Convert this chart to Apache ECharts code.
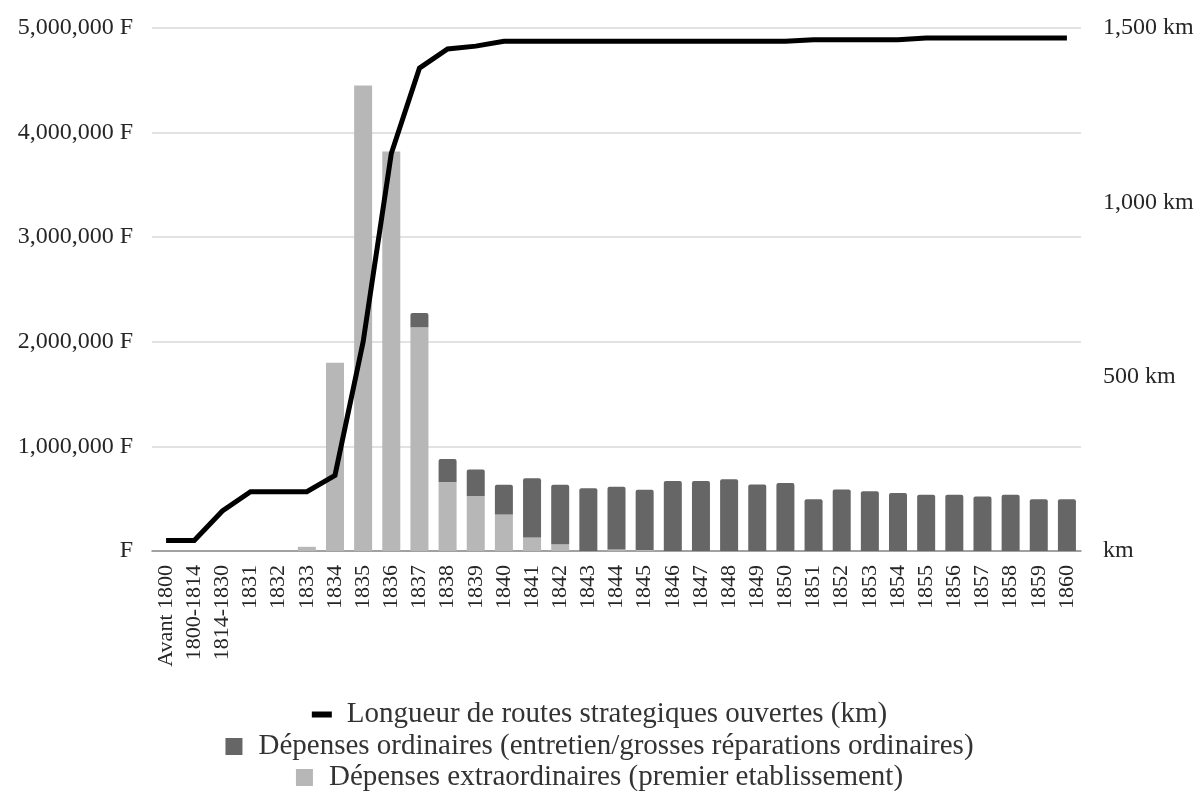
<!DOCTYPE html>
<html>
<head>
<meta charset="utf-8">
<script src="https://cdn.jsdelivr.net/npm/echarts@6/dist/echarts.min.js"></script>
<style>
html, body { margin: 0; padding: 0; background: #fff; }
#chart { width: 1199px; height: 791px; }
</style>
</head>
<body>
<div id="chart"></div>
<script>
// categories (x axis)
var categories = ['Avant 1800', '1800-1814', '1814-1830',
  '1831', '1832', '1833', '1834', '1835', '1836', '1837', '1838', '1839', '1840',
  '1841', '1842', '1843', '1844', '1845', '1846', '1847', '1848', '1849', '1850',
  '1851', '1852', '1853', '1854', '1855', '1856', '1857', '1858', '1859', '1860'];

// Dépenses extraordinaires (F)
var extraordinaires = [0, 0, 0,
  0, 0, 40000, 1800000, 4450000, 3820000, 2140000, 660000, 525000, 350000,
  130000, 65000, 0, 15000, 10000, 0, 0, 0, 0, 0,
  0, 0, 0, 0, 0, 0, 0, 0, 0, 0];

// Dépenses ordinaires (F)
var ordinaires = [0, 0, 0,
  0, 0, 0, 0, 0, 0, 135000, 220000, 253000, 284000,
  566000, 569000, 600000, 600000, 575000, 670000, 670000, 685000, 635000, 650000,
  495000, 588000, 572000, 555000, 538000, 538000, 522000, 538000, 495000, 495000];

// Longueur de routes ouvertes (km)
var longueurKm = [30, 30, 115,
  170, 170, 170, 217, 600, 1140, 1385, 1440, 1448, 1462,
  1462, 1462, 1462, 1462, 1462, 1462, 1462, 1462, 1462, 1462,
  1466, 1466, 1466, 1466, 1471, 1471, 1471, 1471, 1471, 1471];

var leftTicks = { min: 0, max: 5000000, interval: 1000000 };
var rightTicks = { min: 0, max: 1500, interval: 500 };

var FONT = "'Liberation Serif', 'DejaVu Serif', serif";
var TXT = '#262626';

function fmt(v){
	return v.toString().replace(/\B(?=(\d{3})+(?!\d))/g, ',');
}

var chart = echarts.init(document.getElementById('chart'));
var option = {
	backgroundColor: '#ffffff',
	animation: false,
	textStyle: { fontFamily: FONT },
	grid: { left: 152, right: 118, top: 28, bottom: 240, containLabel: false },
	legend: [
		{
			top: 695, left: 'center',
			itemWidth: 20, itemHeight: 6,
			textStyle: { fontFamily: FONT, fontSize: 29, color: '#333', padding: [0, 0, 0, 10] },
			data: [{ name: 'Longueur de routes strategiques ouvertes (km)', icon: 'rect' }]
		},
		{
			top: 727, left: 'center',
			itemWidth: 17, itemHeight: 17,
			textStyle: { fontFamily: FONT, fontSize: 29, color: '#333', padding: [0, 0, 0, 11] },
			data: [{ name: 'Dépenses ordinaires (entretien/grosses réparations ordinaires)', icon: 'rect' }]
		},
		{
			top: 758, left: 'center',
			itemWidth: 17, itemHeight: 17,
			textStyle: { fontFamily: FONT, fontSize: 29, color: '#333', padding: [0, 0, 0, 11] },
			data: [{ name: 'Dépenses extraordinaires (premier etablissement)', icon: 'rect' }]
		}
	],
	xAxis: {
		type: 'category',
		data: categories,
		boundaryGap: true,
		axisLine: { lineStyle: { color: '#8c8c8c', width: 1.5 } },
		axisTick: { show: false },
		axisLabel: {
			rotate: 90, interval: 0, margin: 14,
			fontFamily: FONT, fontSize: 22, color: TXT
		}
	},
	yAxis: [
		{
			type: 'value',
			min: leftTicks.min, max: leftTicks.max, interval: leftTicks.interval,
			axisLine: { show: false },
			axisTick: { show: false },
			splitLine: { lineStyle: { color: '#d9d9d9', width: 1.5 } },
			axisLabel: {
				margin: 19, fontFamily: FONT, fontSize: 24, color: TXT,
				formatter: function(v){ return v === 0 ? 'F' : fmt(v) + ' F'; }
			}
		},
		{
			type: 'value',
			position: 'right',
			min: rightTicks.min, max: rightTicks.max, interval: rightTicks.interval,
			axisLine: { show: false },
			axisTick: { show: false },
			splitLine: { show: false },
			axisLabel: {
				margin: 22, fontFamily: FONT, fontSize: 24, color: TXT,
				formatter: function(v){ return v === 0 ? 'km' : fmt(v) + ' km'; }
			}
		}
	],
	series: [
		{
			name: 'Dépenses extraordinaires (premier etablissement)',
			type: 'bar',
			stack: 'depenses',
			barWidth: 18,
			itemStyle: { color: '#b7b7b7' },
			data: extraordinaires
		},
		{
			name: 'Dépenses ordinaires (entretien/grosses réparations ordinaires)',
			type: 'bar',
			stack: 'depenses',
			barWidth: 18,
			itemStyle: { color: '#666666', borderRadius: [2, 2, 0, 0] },
			data: ordinaires
		},
		{
			name: 'Longueur de routes strategiques ouvertes (km)',
			type: 'line',
			yAxisIndex: 1,
			z: 5,
			symbol: 'none',
			showSymbol: false,
			itemStyle: { color: '#000000' },
			lineStyle: { color: '#000000', width: 5, cap: 'butt', join: 'miter' },
			data: longueurKm
		}
	]
};
chart.setOption(option);
</script>
</body>
</html>
